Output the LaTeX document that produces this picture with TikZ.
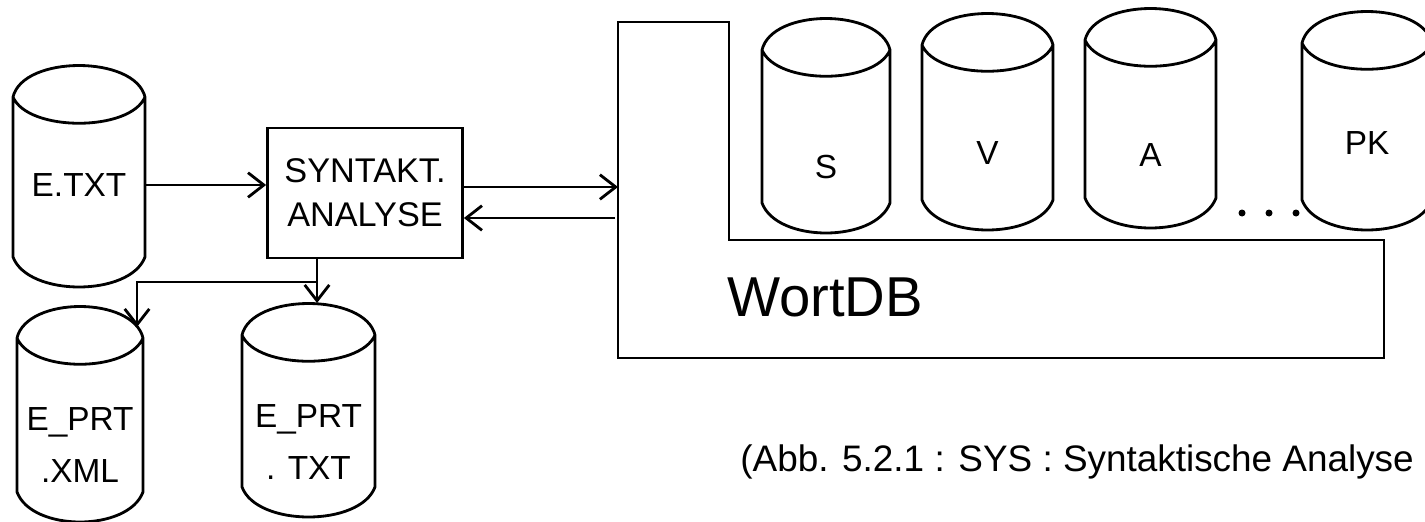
\documentclass[tikz,border=0pt]{standalone}
\usepackage{fontspec}
\setmainfont{Liberation Sans}
\usetikzlibrary{arrows.meta,positioning,calc}

% Datenbank-Zylinder: name, links, rechts, Ecke oben, Ende unten, Label-y, Label
\newcommand{\dbcyl}[7]{%
    \draw[cylline] (#2,#4) .. controls +(10,-42) and +(-10,-42) .. (#3,#4)
        .. controls +(-15,35) and +(15,35) .. (#2,#4)
        -- (#2,#5) .. controls +(15,40) and +(-15,40) .. (#3,#5) -- (#3,#4);
    \node[cyllabel, minimum width={(#3-#2)*0.02cm}] (#1) at ({(#2+#3)/2},#6) {#7};
}

\tikzset{
    cylline/.style={line width=1.6pt, line join=round},
    cyllabel/.style={inner sep=0pt, align=center, font=\fontsize{19}{22}\selectfont},
    procbox/.style={draw, line width=1.6pt, minimum width=3.9cm, minimum height=2.6cm,
        align=center, inner sep=0pt, font=\fontsize{19.5}{23}\selectfont},
    flow/.style={line width=1.6pt, -{Straight Barb[length=9pt,width=14pt,line width=1.6pt]}},
}

\begin{document}
\begin{tikzpicture}[x=0.02cm, y=-0.02cm]
\path[use as bounding box, clip] (0,0) rectangle (1425,521);

% Eingabe und Analyse
\dbcyl{etxt}{13}{145}{97}{257}{185}{E.TXT}
\node[procbox] (syn) at (365,193) {SYNTAKT.\\[2pt]ANALYSE};

% Ausgaben
\dbcyl{eprtxml}{17}{143}{338}{492}{445}{E\_PRT\\[8pt].XML}
\dbcyl{eprttxt}{242}{375}{335}{487}{442}{E\_PRT\\[8pt]. TXT}

% WortDB
\draw[line width=1.6pt] (618,22) -- (729,22) -- (729,240) -- (1384,240)
    -- (1384,358) -- (618,358) -- cycle;
\node[font=\fontsize{32}{36}\selectfont, inner sep=0pt] (wdb) at (825,297) {WortDB};

\begin{scope}[every node/.append style={font=\fontsize{28}{30}\selectfont}]
    \dbcyl{dbs}{762}{890}{50}{203}{167}{S}
    \dbcyl{dbv}{922}{1053}{45}{200}{153}{V}
    \dbcyl{dba}{1085}{1216}{40}{198}{155}{A}
    \dbcyl{dbpk}{1302}{1432}{43}{200}{143}{PK}
\end{scope}
\foreach \dx in {1242,1269,1296}
    \fill (\dx,213) circle (3.5);

% Verbindungen
\coordinate (wdbin) at (618,187);
\coordinate (wdbback) at (615,218);
\coordinate (tap) at (317,282);
\coordinate (txtin) at (317,303);
\coordinate (xmlin) at (137,327);

\draw[flow] (etxt.east) -- (etxt.east -| syn.west);
\draw[flow] (syn.east |- wdbin) -- (wdbin);
\draw[flow] (wdbback) -- (syn.east |- wdbback);
\draw[flow] (syn.south -| tap) -- (txtin);
\draw[flow] (tap) -| (xmlin);

% Bildunterschrift
\node[anchor=west, inner sep=0pt, font=\fontsize{21}{24}\selectfont] (caption) at (740,462)
    {(Abb. 5.2.1 : SYS : Syntaktische Analyse};

\end{tikzpicture}
\end{document}
